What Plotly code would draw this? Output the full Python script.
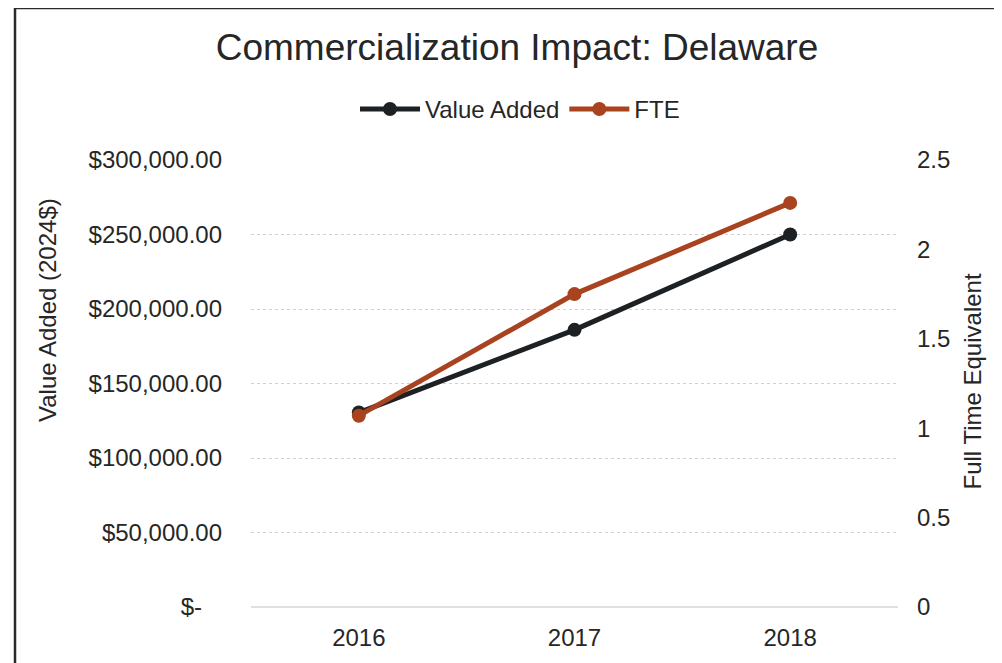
import plotly.graph_objects as go

# --- data ---
years = ["2016", "2017", "2018"]
value_added = [130500, 186000, 250000]
fte = [1.07, 1.75, 2.26]

left_ticks = [0, 50000, 100000, 150000, 200000, 250000, 300000]
left_labels = ["$-\u00a0\u00a0\u00a0", "$50,000.00", "$100,000.00", "$150,000.00",
               "$200,000.00", "$250,000.00", "$300,000.00"]
right_ticks = [0, 0.5, 1, 1.5, 2, 2.5]
right_labels = ["0", "0.5", "1", "1.5", "2", "2.5"]

BLACK = "#1d2124"
ORANGE = "#a8421f"
TEXT = "#262626"
GRID = "#d0d0d0"
FONT = "Liberation Sans, Arial, sans-serif"

# page puts the figure 8px in from the corner, so work in screen px and shift
OFF = 8
W, H = 1002 - OFF, 663 - OFF
L, R, T, B = 251 - OFF, 898 - OFF, 160 - OFF, 610 - OFF


def px_x(x):
    return (x - OFF - L) / (R - L)


def px_y(y):
    return (B - (y - OFF)) / (B - T)


fig = go.Figure()

fig.add_trace(go.Scatter(
    x=years, y=value_added, name="Value Added", mode="lines+markers",
    line=dict(color=BLACK, width=5), marker=dict(color=BLACK, size=14),
    yaxis="y"
))
fig.add_trace(go.Scatter(
    x=years, y=fte, name="FTE", mode="lines+markers",
    line=dict(color=ORANGE, width=5), marker=dict(color=ORANGE, size=14),
    yaxis="y2"
))

fig.update_layout(
    width=W, height=H,
    margin=dict(l=L, r=W - R, t=T, b=H - B, pad=0),
    paper_bgcolor="white", plot_bgcolor="white",
    font=dict(family=FONT, color=TEXT, size=24),
    title=dict(text="Commercialization Impact: Delaware", xref="paper", x=px_x(517),
               xanchor="center", yref="container", y=1 - (47 - OFF) / H, yanchor="middle",
               font=dict(size=37, color=TEXT)),
    legend=dict(orientation="h", xref="paper", yref="paper", x=px_x(520), y=px_y(109),
                xanchor="center", yanchor="middle", font=dict(size=24, color=TEXT),
                itemwidth=60, tracegroupgap=0, bgcolor="rgba(0,0,0,0)"),
    showlegend=True,
    xaxis=dict(type="category", range=[-0.5, 2.5], showgrid=False, showline=False,
               ticks="", tickfont=dict(size=24, color=TEXT), ticklabelstandoff=14),
    yaxis=dict(range=[0, 300000], tickvals=left_ticks, ticktext=left_labels,
               showgrid=True, gridcolor=GRID, griddash="dot", gridwidth=1,
               zeroline=True, zerolinecolor="#e0e0e0", zerolinewidth=2,
               ticks="", tickfont=dict(size=24, color=TEXT), ticklabelstandoff=28),
    yaxis2=dict(range=[0, 2.5], tickvals=right_ticks, ticktext=right_labels,
                overlaying="y", side="right", showgrid=False, zeroline=False,
                ticks="", tickfont=dict(size=24, color=TEXT), ticklabelstandoff=18),
    annotations=[
        dict(text="Value Added (2024$)", xref="paper", yref="paper",
             x=px_x(48), y=px_y(311), textangle=-90, showarrow=False,
             xanchor="center", yanchor="middle", font=dict(size=24, color=TEXT)),
        dict(text="Full Time Equivalent", xref="paper", yref="paper",
             x=px_x(973), y=px_y(383), textangle=-90, showarrow=False,
             xanchor="center", yanchor="middle", font=dict(size=24, color=TEXT)),
    ],
    shapes=[
        dict(type="rect", xref="paper", yref="paper",
             x0=px_x(15), x1=px_x(1100), y0=px_y(750), y1=px_y(7),
             line=dict(color="#2b2b2b", width=2.5), fillcolor="rgba(0,0,0,0)",
             layer="above"),
    ],
)

fig.write_html("out.html")
